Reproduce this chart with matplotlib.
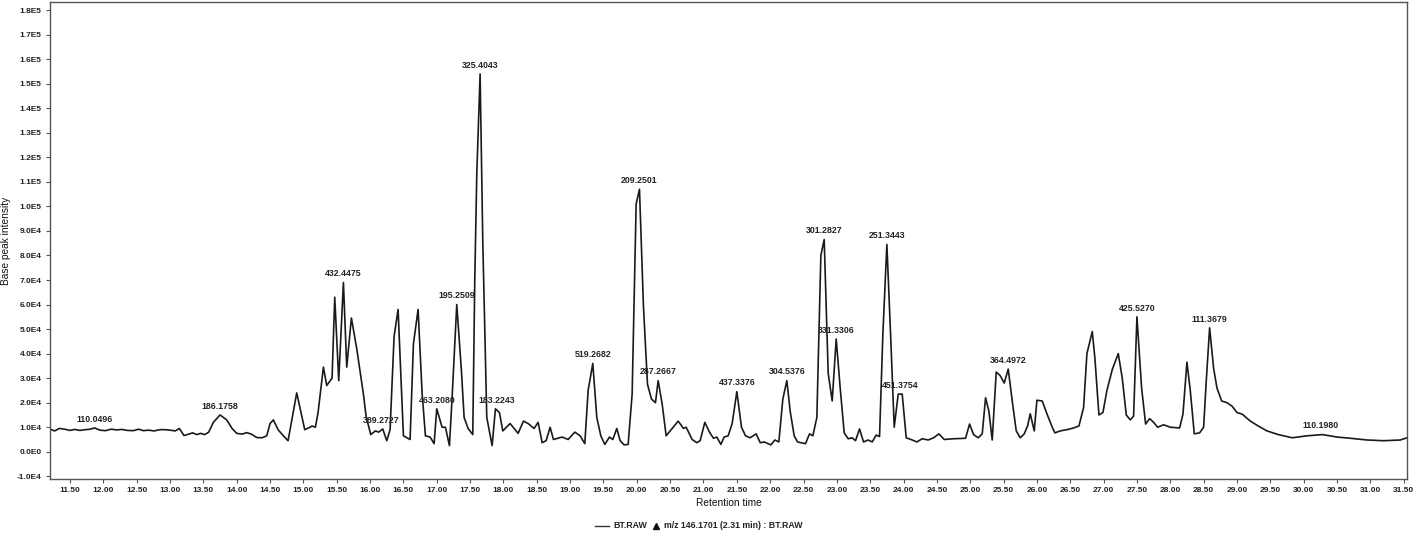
import matplotlib
matplotlib.use("Agg")
import matplotlib.pyplot as plt
from matplotlib.lines import Line2D

plt.rcParams['font.family'] = ['Liberation Sans', 'DejaVu Sans']

# Retention time (min) and base peak intensity (units of 1E4)
times = [11.20, 11.27, 11.34, 11.42, 11.50, 11.57, 11.65, 11.73, 11.80, 11.87,
         11.95, 12.03, 12.12, 12.20, 12.28, 12.36, 12.45, 12.53, 12.60, 12.68,
         12.76, 12.85, 12.93, 13.00, 13.08, 13.14, 13.21, 13.28, 13.34, 13.40,
         13.46, 13.52, 13.58, 13.65, 13.75, 13.85, 13.93, 14.00, 14.08, 14.15,
         14.22, 14.30, 14.38, 14.45, 14.50, 14.55, 14.62, 14.70, 14.77, 14.90,
         15.02, 15.10, 15.13, 15.18, 15.22, 15.30, 15.35, 15.43, 15.47, 15.53,
         15.60, 15.65, 15.72, 15.80, 15.90, 15.94, 16.01, 16.08, 16.13, 16.19,
         16.25, 16.30, 16.36, 16.42, 16.50, 16.60, 16.65, 16.72, 16.78, 16.83,
         16.90, 16.96, 17.00, 17.08, 17.13, 17.19, 17.23, 17.30, 17.37, 17.41,
         17.47, 17.54, 17.57, 17.60, 17.65, 17.69, 17.75, 17.83, 17.88, 17.94,
         17.99, 18.10, 18.22, 18.30, 18.37, 18.46, 18.52, 18.58, 18.64, 18.70,
         18.75, 18.88, 18.97, 19.07, 19.15, 19.22, 19.27, 19.34, 19.40, 19.46,
         19.52, 19.59, 19.64, 19.70, 19.75, 19.81, 19.87, 19.93, 19.99, 20.04,
         20.10, 20.16, 20.22, 20.28, 20.32, 20.38, 20.44, 20.53, 20.62, 20.70,
         20.74, 20.83, 20.90, 20.95, 21.02, 21.09, 21.15, 21.20, 21.26, 21.31,
         21.37, 21.43, 21.50, 21.57, 21.63, 21.70, 21.79, 21.85, 21.91, 22.01,
         22.07, 22.13, 22.19, 22.25, 22.30, 22.36, 22.41, 22.53, 22.59, 22.64,
         22.70, 22.76, 22.81, 22.87, 22.93, 22.99, 23.05, 23.11, 23.17, 23.23,
         23.28, 23.34, 23.40, 23.47, 23.53, 23.59, 23.64, 23.69, 23.75, 23.81,
         23.86, 23.92, 23.98, 24.04, 24.13, 24.20, 24.28, 24.37, 24.45, 24.53,
         24.61, 24.75, 24.93, 24.99, 25.05, 25.12, 25.18, 25.23, 25.28, 25.33,
         25.39, 25.45, 25.51, 25.57, 25.63, 25.69, 25.75, 25.81, 25.86, 25.90,
         25.96, 26.00, 26.08, 26.15, 26.23, 26.27, 26.35, 26.45, 26.55, 26.63,
         26.70, 26.75, 26.83, 26.87, 26.93, 26.99, 27.05, 27.13, 27.22, 27.28,
         27.34, 27.40, 27.45, 27.50, 27.57, 27.63, 27.69, 27.75, 27.81, 27.90,
         28.00, 28.14, 28.19, 28.25, 28.30, 28.36, 28.44, 28.50, 28.54, 28.59,
         28.65, 28.70, 28.77, 28.85, 28.93, 29.00, 29.08, 29.20, 29.32, 29.45,
         29.62, 29.83, 30.05, 30.28, 30.50, 30.70, 30.95, 31.20, 31.45, 31.55]

intensity_e4 = [0.92, 0.85, 0.95, 0.92, 0.87, 0.91, 0.87, 0.90, 0.92, 0.97,
                0.88, 0.86, 0.92, 0.89, 0.91, 0.87, 0.86, 0.92, 0.86, 0.88,
                0.85, 0.90, 0.90, 0.88, 0.85, 0.95, 0.66, 0.72, 0.77, 0.70,
                0.75, 0.70, 0.80, 1.20, 1.50, 1.30, 0.95, 0.75, 0.72, 0.78,
                0.72, 0.58, 0.57, 0.65, 1.15, 1.30, 0.90, 0.65, 0.45, 2.40,
                0.90, 1.00, 1.05, 1.00, 1.60, 3.45, 2.70, 3.00, 6.30, 2.90,
                6.90, 3.45, 5.45, 4.20, 2.35, 1.45, 0.70, 0.85, 0.80, 0.93,
                0.45, 0.90, 4.70, 5.80, 0.65, 0.50, 4.40, 5.80, 2.40, 0.65,
                0.60, 0.33, 1.75, 1.00, 1.00, 0.25, 2.20, 6.00, 3.30, 1.40,
                0.95, 0.70, 7.00, 11.30, 15.40, 8.60, 1.40, 0.25, 1.75, 1.60,
                0.85, 1.15, 0.75, 1.25, 1.15, 0.95, 1.20, 0.37, 0.45, 1.00,
                0.50, 0.60, 0.50, 0.80, 0.65, 0.33, 2.50, 3.60, 1.40, 0.65,
                0.30, 0.60, 0.50, 0.95, 0.45, 0.28, 0.30, 2.35, 10.10, 10.70,
                5.90, 2.75, 2.15, 2.00, 2.90, 1.95, 0.65, 0.95, 1.25, 0.95,
                1.00, 0.50, 0.37, 0.45, 1.20, 0.80, 0.55, 0.60, 0.30, 0.60,
                0.65, 1.15, 2.45, 1.00, 0.65, 0.57, 0.73, 0.37, 0.40, 0.28,
                0.48, 0.40, 2.15, 2.90, 1.65, 0.65, 0.40, 0.33, 0.73, 0.65,
                1.40, 8.00, 8.65, 3.20, 2.07, 4.60, 2.60, 0.77, 0.53, 0.57,
                0.45, 0.93, 0.40, 0.48, 0.40, 0.68, 0.62, 4.80, 8.45, 4.50,
                1.00, 2.35, 2.35, 0.57, 0.48, 0.40, 0.53, 0.48, 0.57, 0.73,
                0.50, 0.53, 0.55, 1.13, 0.70, 0.57, 0.73, 2.20, 1.65, 0.48,
                3.25, 3.10, 2.80, 3.37, 2.07, 0.85, 0.57, 0.73, 1.05, 1.55,
                0.85, 2.10, 2.07, 1.55, 1.00, 0.77, 0.85, 0.90, 0.97, 1.05,
                1.80, 4.00, 4.90, 3.80, 1.50, 1.60, 2.50, 3.35, 4.00, 3.00,
                1.50, 1.30, 1.45, 5.50, 2.60, 1.13, 1.35, 1.20, 1.00, 1.10,
                1.00, 0.97, 1.53, 3.65, 2.50, 0.73, 0.77, 1.00, 2.90, 5.05,
                3.40, 2.60, 2.07, 2.00, 1.85, 1.60, 1.53, 1.25, 1.05, 0.85,
                0.70, 0.57, 0.65, 0.70, 0.60, 0.55, 0.48, 0.45, 0.48, 0.57]

# Peak annotations: label text, retention time, apex intensity (1E4)
peak_labels = ["110.0496", "186.1758", "432.4475", "389.2727", "463.2080",
               "195.2509", "325.4043", "183.2243", "519.2682", "209.2501",
               "287.2667", "437.3376", "304.5376", "301.2827", "331.3306",
               "251.3443", "451.3754", "364.4972", "425.5270", "111.3679",
               "110.1980"]
peak_times = [11.87, 13.75, 15.60, 16.16, 17.00, 17.30, 17.65, 17.90, 19.34, 20.04,
              20.32, 21.50, 22.25, 22.81, 22.99, 23.75, 23.95, 25.57, 27.50, 28.59,
              30.25]
peak_values_e4 = [0.97, 1.50, 6.90, 0.93, 1.75, 6.00, 15.40, 1.75, 3.60, 10.70,
                  2.90, 2.45, 2.90, 8.65, 4.60, 8.45, 2.35, 3.37, 5.50, 5.05,
                  0.70]

x_ticks = [11.5 + 0.5 * i for i in range(41)]
x_tick_labels = ["%.2f" % t for t in x_ticks]
y_ticks_e4 = [-1, 0, 1, 2, 3, 4, 5, 6, 7, 8, 9, 10, 11, 12, 13, 14, 15, 16, 17, 18]
y_tick_labels = ["-1.0E4", "0.0E0", "1.0E4", "2.0E4", "3.0E4", "4.0E4", "5.0E4",
                 "6.0E4", "7.0E4", "8.0E4", "9.0E4", "1.0E5", "1.1E5", "1.2E5",
                 "1.3E5", "1.4E5", "1.5E5", "1.6E5", "1.7E5", "1.8E5"]

fig = plt.figure(figsize=(14.16, 5.33), dpi=100)
ax = fig.add_axes([50 / 1416, 54 / 533, 1357 / 1416, 477 / 533])

ax.plot(times, [v * 1e4 for v in intensity_e4], color="#1a1a1a", lw=1.2)

for txt, t, v in zip(peak_labels, peak_times, peak_values_e4):
    ax.annotate(txt, xy=(t, v * 1e4), xytext=(0, 3), textcoords="offset points",
                ha="center", va="bottom", fontsize=6.3, fontweight="bold",
                color="#222222")

ax.set_xlim(11.2, 31.55)
ax.set_ylim(-1.11e4, 1.833e5)
ax.set_xticks(x_ticks)
ax.set_xticklabels(x_tick_labels, fontweight="bold")
ax.set_yticks([v * 1e4 for v in y_ticks_e4])
ax.set_yticklabels(y_tick_labels, fontweight="bold")
ax.tick_params(axis="both", labelsize=6.0, length=3, width=0.8, color="#555555",
               labelcolor="#222222", pad=3)
for sp in ax.spines.values():
    sp.set_color("#555555")
    sp.set_linewidth(1.0)

ax.set_xlabel("Retention time", fontsize=7.3, labelpad=3, color="#111111")
ax.set_ylabel("Base peak intensity", fontsize=7.3, labelpad=4, color="#111111")

# Legend line at the bottom
fig.add_artist(Line2D([595 / 1416, 609 / 1416], [7 / 533, 7 / 533],
                      color="#333333", lw=1.0, transform=fig.transFigure))
fig.text(613 / 1416, 7 / 533, "BT.RAW", fontsize=6.3, fontweight="bold",
         va="center", ha="left", color="#222222")
fig.add_artist(Line2D([656 / 1416], [7 / 533], marker="^", markersize=5,
                      color="#111111", transform=fig.transFigure))
fig.text(664 / 1416, 7 / 533, "m/z 146.1701 (2.31 min) : BT.RAW", fontsize=6.3,
         fontweight="bold", va="center", ha="left", color="#222222")

fig.savefig("out.png", dpi=100)
